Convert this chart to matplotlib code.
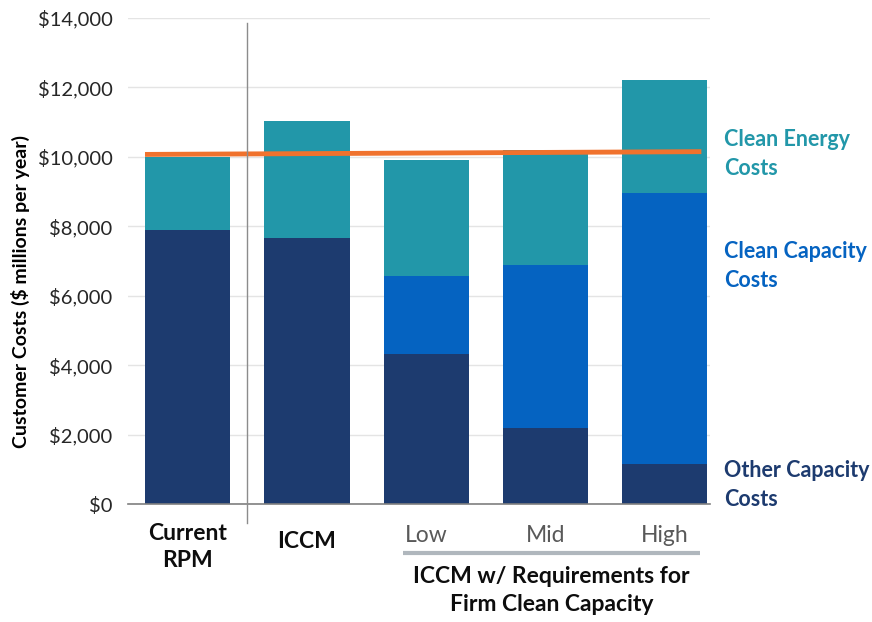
import matplotlib
matplotlib.use("Agg")
import matplotlib.pyplot as plt
import matplotlib.transforms as mtransforms
import numpy as np

plt.rcParams['font.family'] = ['Lato', 'DejaVu Sans']

# Data ($ millions per year)
kategorier = ["Current\nRPM", "ICCM", "Low", "Mid", "High"]
other_capacity = [7900, 7660, 4320, 2190, 1150]
clean_capacity = [0, 0, 2250, 4700, 7810]
clean_energy = [2100, 3370, 3340, 3310, 3260]
ref_line = [10070, 10150]  # start / end of orange line

c_other = "#1D3B6F"
c_cap = "#0563C1"
c_energy = "#2297A9"
c_line = "#F0722D"

fig = plt.figure(figsize=(8.72, 6.22), dpi=100)
ax = fig.add_axes([128/872, 1-504/622, (710-128)/872, (504-18)/622])

x = np.arange(len(kategorier))
w = 0.715
ax.bar(x, other_capacity, w, color=c_other, zorder=2)
ax.bar(x, clean_capacity, w, bottom=other_capacity, color=c_cap, zorder=2)
bunn = np.array(other_capacity) + np.array(clean_capacity)
ax.bar(x, clean_energy, w, bottom=bunn, color=c_energy, zorder=2)

ax.plot([x[0] - w/2, x[-1] + w/2 - 0.05], ref_line, color=c_line, lw=3.5, zorder=4,
        solid_capstyle="butt")

ax.set_ylim(0, 14000)
ax.set_xlim(-0.5, 4.38)
ax.set_yticks(range(0, 14001, 2000))
ax.set_yticklabels([f"${v:,}" for v in range(0, 14001, 2000)], fontsize=14.5, color="#262626")
ax.yaxis.grid(True, color="#E4E4E4", lw=1, zorder=0)
ax.tick_params(axis="both", length=0)
ax.tick_params(axis="y", pad=11)
ax.set_xticks([])
for s in ["left", "right", "top"]:
    ax.spines[s].set_visible(False)
ax.spines["bottom"].set_color("#7F7F7F")
ax.spines["bottom"].set_linewidth(1.2)
ax.spines["bottom"].set_zorder(3)

ax.set_ylabel("Customer Costs ($ millions per year)", fontsize=14, fontweight="bold")
ax.yaxis.set_label_coords(-0.168, 0.438)

# skillelinje mellom Current RPM og ICCM
ax.axvline(0.5, ymin=-0.04, ymax=0.99, color="#8C8C8C", lw=1, clip_on=False, zorder=5)

trans = mtransforms.blended_transform_factory(ax.transData, ax.transAxes)

# kategori-etiketter
ax.text(x[0], -0.04, kategorier[0], transform=trans, ha="center", va="top",
        fontsize=16.5, fontweight="bold", color="#0D0D0D", linespacing=1.32)
ax.text(x[1], -0.055, kategorier[1], transform=trans, ha="center", va="top",
        fontsize=16.5, fontweight="bold", color="#0D0D0D")
for i in range(2, 5):
    ax.text(x[i], -0.043, kategorier[i], transform=trans, ha="center", va="top",
            fontsize=16.5, color="#595959")

ax.plot([1.81, 4.30], [-0.101, -0.101], transform=trans, color="#B0B7BD", lw=3,
        clip_on=False, solid_capstyle="butt")
ax.text(3.05, -0.128, "ICCM w/ Requirements for\nFirm Clean Capacity", transform=trans,
        ha="center", va="top", fontsize=16.5, fontweight="bold", color="#0D0D0D",
        linespacing=1.4)

# serie-etiketter til høyre
fig.text(724/872, 1-154/622, "Clean Energy\nCosts", ha="left", va="center", fontsize=15.5,
         fontweight="bold", color=c_energy, linespacing=1.45)
fig.text(724/872, 1-266/622, "Clean Capacity\nCosts", ha="left", va="center", fontsize=15.5,
         fontweight="bold", color=c_cap, linespacing=1.45)
fig.text(724/872, 1-485/622, "Other Capacity\nCosts", ha="left", va="center", fontsize=15.5,
         fontweight="bold", color=c_other, linespacing=1.45)

fig.savefig("out.png", dpi=100)
